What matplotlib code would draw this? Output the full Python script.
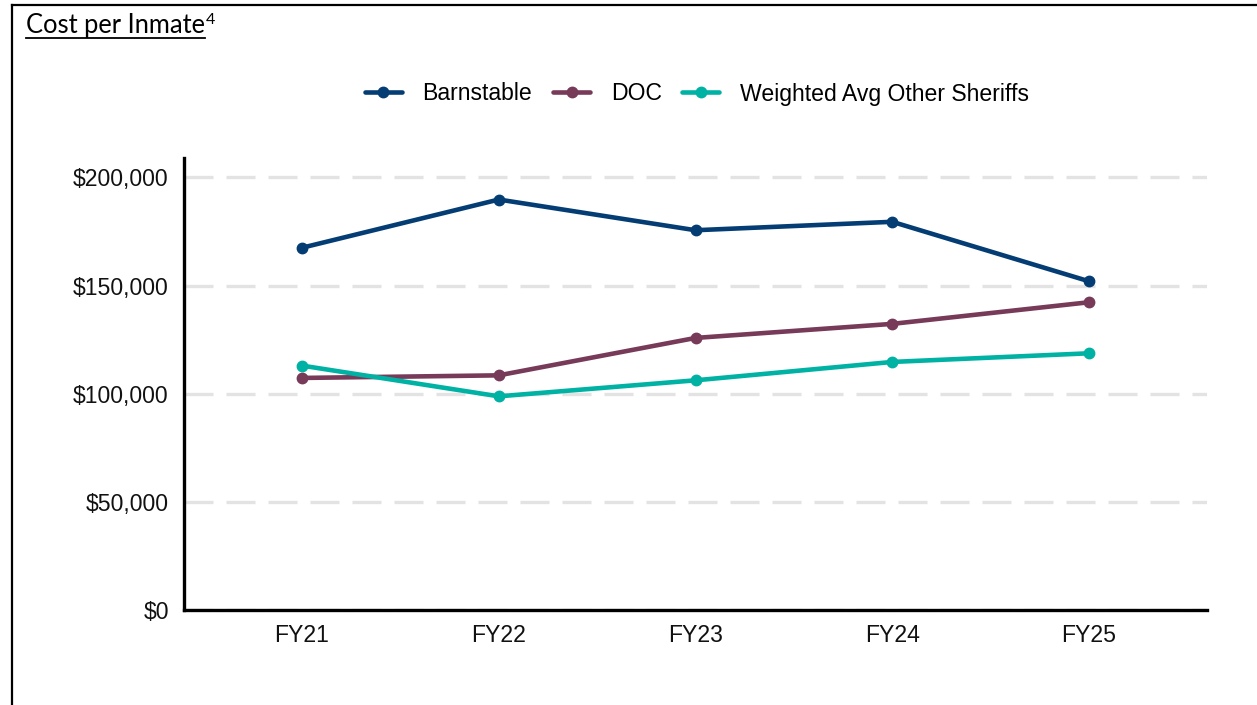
import matplotlib
matplotlib.use("Agg")
import matplotlib.pyplot as plt
from matplotlib.lines import Line2D
from matplotlib.ticker import FuncFormatter

years = ["FY21", "FY22", "FY23", "FY24", "FY25"]
barnstable = [167500, 189800, 175600, 179500, 152000]
doc = [107300, 108500, 125800, 132300, 142300]
other_sheriffs = [113000, 98800, 106200, 114700, 118700]

series = [
    ("Barnstable", barnstable, "#043d74"),
    ("DOC", doc, "#773a58"),
    ("Weighted Avg Other Sheriffs", other_sheriffs, "#00b2a4"),
]

plt.rcParams['font.family'] = ['Liberation Sans', 'DejaVu Sans']

W, H = 1257, 705
fig = plt.figure(figsize=(W / 100, H / 100), dpi=100)
ax = fig.add_axes([184 / W, 1 - 610 / H, (1207 - 184) / W, (610 - 158) / H])

x = list(range(len(years)))
for name, vals, color in series:
    ax.plot(x, vals, color=color, linewidth=3.3, marker='o', markersize=7.5,
            label=name, solid_capstyle='round', zorder=3)

ax.set_xlim(-0.6, 4.6)
ax.set_ylim(0, 209000)
ax.set_yticks([0, 50000, 100000, 150000, 200000])
ax.yaxis.set_major_formatter(FuncFormatter(lambda v, p: f"${v:,.0f}"))
ax.set_xticks(x)
ax.set_xticklabels(years)
ax.tick_params(axis='both', length=0, labelsize=16.6, colors='#111111')
ax.tick_params(axis='y', pad=11)
ax.tick_params(axis='x', pad=10)

ax.yaxis.grid(True, color='#e3e3e3', linewidth=2.4, linestyle=(0, (8.7, 3.9)), zorder=0)
ax.set_axisbelow(True)
for s in ['top', 'right']:
    ax.spines[s].set_visible(False)
for s in ['left', 'bottom']:
    ax.spines[s].set_linewidth(2.4)
    ax.spines[s].set_color('black')

fig.legend(loc='center', bbox_to_anchor=(697 / W, 1 - 94 / H), ncol=3,
           frameon=False, fontsize=16.6, handlelength=1.6, handletextpad=0.9,
           columnspacing=0.9)

# page border pieces (left and top)
fig.add_artist(Line2D([12 / W, 12 / W], [0, 1 - 5 / H], color='black', linewidth=1.6))
fig.add_artist(Line2D([12 / W, 1], [1 - 5 / H, 1 - 5 / H], color='black', linewidth=1.6))

# underlined heading with superscript
title = fig.text(26 / W, 1 - 33 / H, "Cost per Inmate", fontsize=18.4,
                 family=['Lato', 'DejaVu Sans'], ha='left', va='baseline')
fig.canvas.draw()
bb = title.get_window_extent()
fig.text(bb.x1 / W + 0.0008, 1 - 24 / H, "4", fontsize=11.5,
         family=['Lato', 'DejaVu Sans'], ha='left', va='baseline')
fig.add_artist(Line2D([bb.x0 / W, bb.x1 / W], [1 - 37.5 / H, 1 - 37.5 / H],
                      color='black', linewidth=1.3))

fig.savefig("out.png", dpi=100)
